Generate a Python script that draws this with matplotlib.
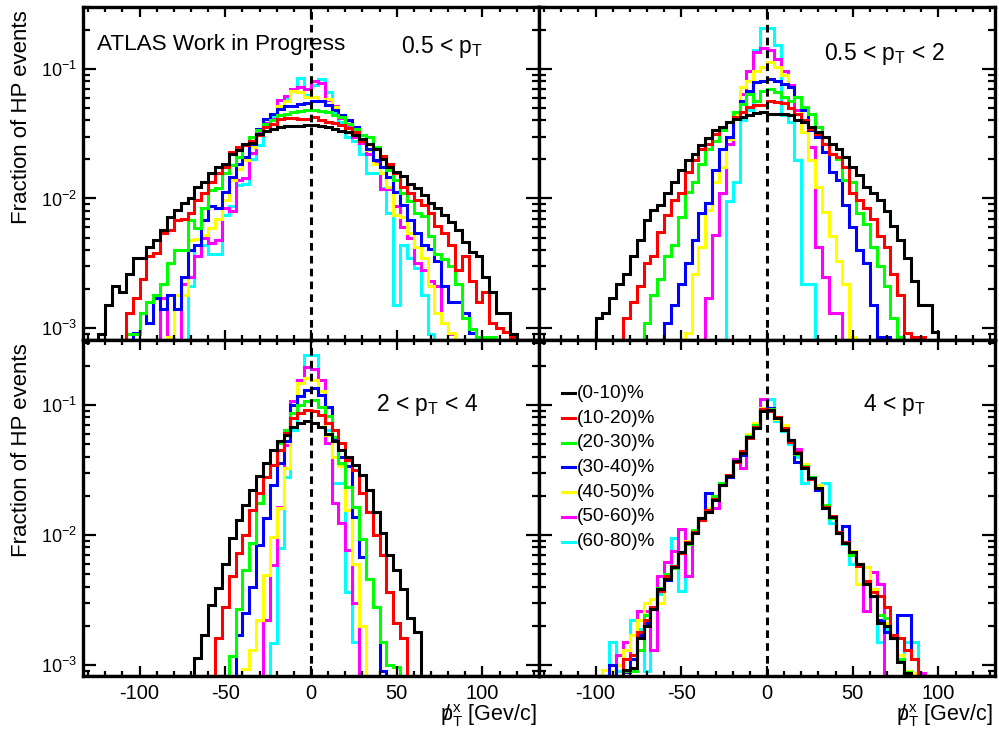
import numpy as np
import matplotlib
matplotlib.use('Agg')
import matplotlib.pyplot as plt
from matplotlib.lines import Line2D
from matplotlib.ticker import LogLocator, MultipleLocator, NullFormatter, FuncFormatter

plt.rcParams['font.family'] = ['Liberation Sans', 'DejaVu Sans']
plt.rcParams['mathtext.fontset'] = 'custom'
plt.rcParams['mathtext.rm'] = 'Liberation Sans'
plt.rcParams['mathtext.it'] = 'Liberation Sans:italic'
plt.rcParams['mathtext.bf'] = 'Liberation Sans:bold'
plt.rcParams['axes.unicode_minus'] = False

bin_width = 4
edges = np.arange(-136, 137, bin_width)

centrality = ['(0-10)%', '(10-20)%', '(20-30)%', '(30-40)%',
              '(40-50)%', '(50-60)%', '(60-80)%']
colors = ['#000000', '#ff0000', '#00ff00', '#0000ff',
          '#ffff00', '#ff00ff', '#00ffff']
pt_ranges = [r'0.5 < $\mathregular{p_{T}}$',
             r'0.5 < $\mathregular{p_{T}}$ < 2',
             r'2 < $\mathregular{p_{T}}$ < 4',
             r'4 < $\mathregular{p_{T}}$']
# slashed p (missing transverse momentum)
x_title = r'$\mathregular{{p\!\!\!/\,}_{T}^{x}}$ [Gev/c]'

# lower edge of first filled bin, then bin contents, per centrality class
# 0.5 < pT
tl_start = [-124, -108, -108, -104, -84, -88, -72]
tl_frac = [
    [.0009, .0015, .0021, .0019, .0026, .0035, .0035, .0042, .0048, .0057,
     .0072, .0081, .0092, .0100, .0123, .0134, .0156, .0175, .0185, .022,
     .0235, .0265, .027, .0316, .033, .0345, .0355, .036, .0365, .0365,
     .0366, .0366, .036, .0358, .0345, .033, .0325, .031, .029, .0265,
     .0242, .020, .0175, .016, .0148, .013, .012, .0106, .0092, .0084,
     .0074, .0066, .0057, .0046, .0039, .0036, .0025, .0019, .0013, .0013,
     .0009],
    [.0013, .0017, .0024, .0036, .0038, .0054, .0057, .0068, .0070, .0077,
     .0097, .011, .0134, .0156, .0175, .0229, .025, .0257, .028, .0307,
     .0355, .0377, .0413, .042, .042, .0413, .0413,
     .0425, .0405, .039, .0385, .0367, .0352, .0326, .028, .0262, .0242,
     .0212, .0186, .0156, .0123, .011, .0097, .0089, .0077, .0061, .0054,
     .0044, .0028, .0036, .0023, .0016, .0019, .0011, .001, .00093, .00085],
    [.0009, .0009, .0013, .0016, .0018, .0022, .0032, .004, .004, .0068,
     .0059, .0084, .0116, .012, .0156, .018, .021, .0257, .030, .0335,
     .0377, .040, .0438, .045, .0464, .047, .048,
     .048, .047, .0464, .0438, .0425, .0377, .0346, .0307, .030, .025,
     .021, .0165, .0138, .011, .0095, .0077, .0073, .0051, .0037, .0034,
     .003, .0022, .0012, .00098, .00085, .00085, .00085],
    [.00092, .0013, .0011, .0017, .0014, .0018, .0014, .0025, .004, .0044,
     .0068, .0087, .0084, .0112, .0147, .0186, .021, .0265, .0346, .0413,
     .045, .049, .052, .052, .054, .0545,
     .057, .056, .053, .048, .0438, .040, .0355, .028, .0242, .0198,
     .0175, .0147, .0112, .0089, .0068, .0054, .0044, .0041, .0033, .0021,
     .0016, .0016, .0013, .00092],
    [.00085, .0018, .0018, .0048, .0049, .0052, .0059, .007, .0097, .0138,
     .017, .0198, .025, .0316, .0355, .045, .052, .057, .068, .066, .061,
     .061, .057, .059, .051, .0438, .040, .0326, .028, .0236, .0186,
     .0156, .0123, .0074, .0072, .0054, .0042, .0035, .0021, .0013, .0011,
     .00092],
    [.0017, 0, 0, .0022, .0025, .0036, .005, .0045, .0048, .0085,
     .008, .014, .0145, .0225, .033, .038, .041, .058, .062, .070, .072, .070,
     .081, .078, .058, .052, .042, .037, .030, .027, .022, .019,
     .0118, .0118, .0088, .006, .005, .0032, .0028, .0023, .0021, .0011,
     .0009],
    [.0021, .0044, .0044, .0037, .0037, .0075, .0087, .0126, .013, .020,
     .026, .036, .043, .058, .060, .067, .085, .063,
     .075, .083, .066, .046, .039, .030, .028, .022, .0157, .0157,
     .012, .0077, .0015, .0044, .0035, .0029, .0018, .0009],
]

# 0.5 < pT < 2
tr_start = [-100, -84, -72, -60, -48, -36, -24]
tr_frac = [
    [.0012, .0013, .0017, .0022, .0026, .0036, .0048, .0068, .0081, .0089,
     .0111, .0134, .0165, .0198, .0222, .0257, .0295, .0335, .0355, .039,
     .0413, .0425, .0438, .0456, .0464,
     .045, .0445, .045, .0438, .040, .039, .0355, .0326, .0298, .0265,
     .0242, .0209, .0175, .0151, .0123, .011, .0097, .0080, .0061, .0048,
     .0035, .0023, .0015, .0015, .00094],
    [.0012, .0016, .0021, .0032, .0036, .0055, .0074, .0097, .011, .016,
     .0198, .0242, .0265, .0316, .0355, .039, .0425, .0464, .0507, .0522,
     .053,
     .056, .0555, .0545, .050, .045, .040, .0346, .0316, .0265, .0222,
     .0209, .0175, .011, .0097, .0084, .007, .0051, .0042, .0026, .0018,
     .00092, .00085, .00085],
    [.0011, .0018, .0024, .0036, .0044, .0072, .0112, .0134, .0186, .0242,
     .028, .0335, .039, .0464, .054, .0642, .057, .068,
     .070, .066, .0605, .057, .0605, .0507, .045, .0355, .0298, .0222,
     .0203, .0138, .0134, .0077, .0064, .0042, .003, .0021, .0012, .00085],
    [.0011, .0015, .0022, .0032, .0048, .0077, .0093, .0165, .0242, .0298,
     .0464, .057, .068, .079, .081,
     .084, .081, .0767, .072, .0605, .048, .0335, .0298, .0229, .016,
     .0138, .0089, .006, .004, .0032, .0015, .00085, .00085],
    [.00092, .0026, .0042, .0081, .0134, .0175, .029, .045, .072, .081,
     .097, .103,
     .112, .103, .089, .072, .0605, .0326, .0198, .0123, .0079, .0051,
     .0033, .0022, .00085],
    [.0017, .0052, .011, .0265, .0464, .0642, .097, .135, .145,
     .14, .12, .097, .075, .048, .0326, .025, .0042, .0025, .0013, .0013],
    [.0095, .0134, .040, .048, .140, .206,
     .206, .153, .044, .039, .0198, .0022, .0022],
]

# 2 < pT < 4
bl_start = [-68, -56, -48, -44, -40, -28, -24]
bl_frac = [
    [.00112, .0017, .0029, .0039, .006, .0094, .013, .017, .0222, .0281,
     .0356, .0451, .0522, .0588, .068, .0723, .0745,
     .073, .067, .060, .0522, .0451, .040, .0345, .029, .0222, .0151,
     .0103, .007, .0054, .0038, .0023, .0018],
    [.0016, .0028, .0048, .0072, .010, .0156, .021, .028, .0345, .045,
     .0605, .079, .086, .0915,
     .089, .084, .072, .064, .0507, .0378, .0316, .021, .0151, .010,
     .007, .0036, .0021, .0016],
    [.00116, .0027, .0054, .0086, .0175, .028, .0345, .0507, .064, .086,
     .10, .106,
     .109, .097, .0813, .057, .0356, .0235, .0165, .0092, .0046, .0028,
     .0015, .001, .00096],
    [.0017, .0025, .004, .0084, .0134, .0243, .0356, .0522, .10, .116, .130,
     .134, .119, .097, .054, .040, .0336, .0138, .0068, .0046, .0028,
     .00089],
    [.00093, .0013, .0022, .0049, .0097, .016, .0326, .086, .147, .160,
     .156, .127, .0588, .040, .0336, .0156, .006, .002],
    [.0022, .0059, .0165, .049, .106, .156, .197,
     .19, .156, .0507, .0175, .0123, .0077, .003],
    [.00147, .0079, .028, .0642, .156, .243,
     .243, .156, .064, .025, .025, .0036, .0015],
]

# 4 < pT
br_start = [-84, -84, -84, -92, -96, -88, -92]
br_frac = [
    [.00092, .00095, .0016, .002, .0027, .0038, .0046, .0057, .0074, .0086,
     .0103, .0134, .0151, .0186, .0243, .0281, .0367, .0425, .057, .066,
     .090,
     .091, .079, .0642, .054, .0425, .0326, .0272, .0228, .016, .0138,
     .0103, .0086, .0074, .006, .0042, .0034, .0021, .002, .0016, .00106,
     .00087],
    [.0011, .0012, .0018, .0022, .0028, .0037, .0048, .0058, .0072, .0088,
     .0105, .013, .0155, .019, .024, .029, .036, .044, .056, .068, .092,
     .090, .080, .066, .052, .043, .033, .027, .023, .0165, .014,
     .0105, .0088, .0074, .0058, .0044, .0036, .0034, .0028, .0017, .0016,
     .0013, .0011],
    [.0009, .0009, .0013, .0024, .0028, .0039, .0050, .0056, .0072, .0085,
     .0108, .0132, .0155, .020, .025, .0285, .037, .044, .058, .070, .093,
     .092, .080, .065, .053, .042, .034, .028, .023, .017, .0135,
     .0105, .0086, .0070, .0060, .0043, .0036, .0024, .0023, .0016, .0011,
     .00088],
    [.0010, 0, .00088, .0011, .0017, .0021, .0027, .0037, .0045, .0058,
     .0072, .0088, .0105, .0135, .021, .019, .025, .028, .037, .041,
     .058, .067, .092,
     .094, .080, .064, .054, .036, .033, .028, .022, .016, .0138,
     .0103, .0116, .0074, .006, .0042, .0034, .0022, .0018, .0016, .0024,
     .0024, .0011],
    [.00092, .0009, .0010, .0013, .0017, .0022, .0030, .0032, .0030, .0045,
     .0056, .0074, .0090, .0108, .013, .016, .019, .024, .029, .036,
     .042, .060, .072, .094,
     .091, .078, .070, .054, .043, .035, .027, .024, .0165, .014,
     .0105, .0088, .0075, .0042, .0057, .0038, .0024, .0021, .0017, .0012,
     .0009, .00087],
    [.0012, .0015, .0011, .0026, .0026, .0013, .0048, .0062, .0075, .011,
     .0048, .0105, .0135, .015, .016, .024, .028, .038, .0326, .058,
     .068, .110,
     .092, .078, .066, .054, .046, .034, .027, .022, .017, .0135,
     .0105, .0088, .0072, .006, .0026, .0052, .0042, 0, 0, 0,
     0, .00087, .00087],
    [.0015, .0009, .0013, .0022, .0019, .0009, .0013, .0035, .0046, .0094,
     .0037, .0085, .0105, .0135, .016, .020, .025, .028, .037, .042,
     .056, .068, .090,
     .110, .075, .063, .05, .04, .025, .028, .022, .025, .0123,
     .0105, .0085, .006, .006, .0044, .0034, .0015, .0019, .0016, .0011,
     .0015, .0015],
]

W, H = 999, 742
fig = plt.figure(figsize=(W / 100, H / 100), dpi=100)


def fx(x):
    return x / W


def fy(y):
    return 1 - y / H


def full_hist(start, values, ymin):
    h = np.full(len(edges) - 1, ymin)
    i0 = int((start - edges[0]) // bin_width)
    v = np.asarray(values, dtype=float)
    h[i0:i0 + len(v)] = np.maximum(v, ymin)
    return h


def decade(v, pos):
    return r'$\mathregular{10^{%d}}$' % round(np.log10(v))


panels = [
    # starts, fractions, pad box (l, t, r, b) px, ylim, text pos, left, bottom
    (tl_start, tl_frac, (83, 7, 539, 340), (8.1e-4, 0.30), (401, 53), True, False),
    (tr_start, tr_frac, (539, 7, 995, 340), (8.1e-4, 0.30), (824, 60), False, False),
    (bl_start, bl_frac, (83, 340, 539, 676), (8.2e-4, 0.315), (376, 411), True, True),
    (br_start, br_frac, (539, 340, 995, 676), (8.2e-4, 0.315), (863, 411), False, True),
]

for k, (starts, fracs, box, ylim, tpos, left, bottom) in enumerate(panels):
    l, t, r, b = box
    ax = fig.add_axes([fx(l), fy(b), (r - l) / W, (b - t) / H])
    ax.set_yscale('log')
    for i in reversed(range(len(fracs))):
        ax.stairs(full_hist(starts[i], fracs[i], ylim[0]), edges, baseline=None,
                  color=colors[i], lw=2.2, joinstyle='miter')
    ax.axvline(0, color='k', lw=2.2, dashes=(2.5, 1.7), zorder=4)
    ax.set_xlim(-133, 133)
    ax.set_ylim(*ylim)

    ax.xaxis.set_major_locator(MultipleLocator(50))
    ax.xaxis.set_minor_locator(MultipleLocator(10))
    ax.yaxis.set_major_locator(LogLocator(base=10, numticks=10))
    ax.yaxis.set_minor_locator(LogLocator(base=10, subs=np.arange(2, 10), numticks=30))
    ax.yaxis.set_major_formatter(FuncFormatter(decade))
    ax.yaxis.set_minor_formatter(NullFormatter())

    ax.tick_params(which='both', direction='in', top=True, right=True, width=1.6)
    ax.tick_params(axis='x', which='major', length=7.2, labelsize=14.5, pad=5.5)
    ax.tick_params(axis='x', which='minor', length=3.6)
    ax.tick_params(axis='y', which='major', length=9.5, labelsize=13, pad=4)
    ax.tick_params(axis='y', which='minor', length=4.8)
    ax.tick_params(labelleft=left, labelbottom=bottom)
    for s in ax.spines.values():
        s.set_linewidth(2.4)

    fig.text(fx(tpos[0]), fy(tpos[1]), pt_ranges[k], fontsize=16.5, va='baseline')

    if left:
        fig.text(fx(22), fy(t + 3), 'Fraction of HP events', rotation=90,
                 ha='center', va='top', fontsize=16)
    if bottom:
        fig.text(fx(r - 2), fy(721), x_title, ha='right', va='baseline', fontsize=15.5)

fig.text(fx(97), fy(50), 'ATLAS Work in Progress', fontsize=16.2, va='baseline')

# legend in the 4 < pT pad
for i, (lab, col) in enumerate(zip(centrality, colors)):
    y = 393.3 + 24.7 * i
    fig.add_artist(Line2D([fx(562), fx(575)], [fy(y), fy(y)], color=col, lw=2.2))
    fig.text(fx(577), fy(y), lab, fontsize=13.7, va='center')

fig.savefig('out.png', dpi=100)
